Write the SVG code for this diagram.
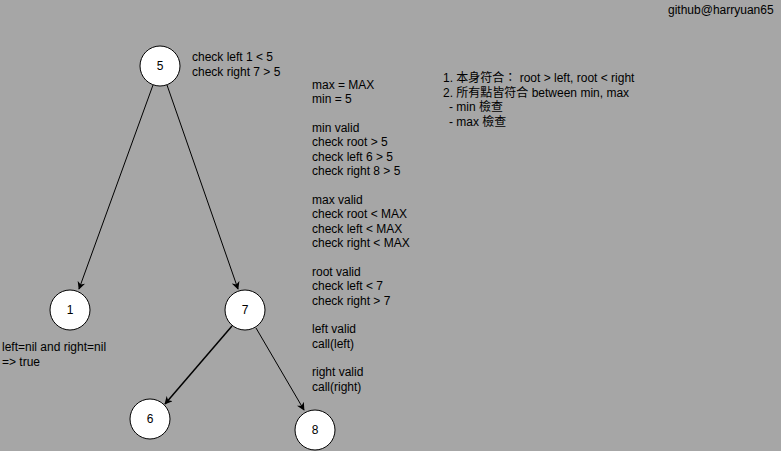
<svg xmlns="http://www.w3.org/2000/svg" width="781" height="451" viewBox="0 0 781 451">
<style>
text{font-family:"Liberation Sans","Noto Sans CJK TC",Arial,sans-serif;font-size:12px;fill:#000}
.n circle{fill:#fff;stroke:#000;stroke-width:1}
.n text{text-anchor:middle}
.e{stroke:#000;stroke-width:1;fill:none;marker-end:url(#ah)}
</style>
<defs>
<marker id="ah" viewBox="0 0 10 10" refX="9" refY="5" markerWidth="8" markerHeight="8" markerUnits="userSpaceOnUse" orient="auto">
<path d="M0,0 L10,5 L0,10 L3,5 Z" fill="#000"/>
</marker>
</defs>
<rect width="781" height="451" fill="#a6a6a6"/>
<g id="connectors">
<line class="e" x1="153" y1="85" x2="79" y2="289"/>
<line class="e" x1="167" y1="85" x2="238" y2="289"/>
<line class="e" x1="232" y1="326" x2="165" y2="404" style="stroke-width:1.5"/>
<line class="e" x1="256" y1="328" x2="304" y2="410"/>
</g>
<g id="node5" class="n"><circle cx="160" cy="66" r="20"/><text x="160" y="70">5</text></g>
<g id="node1" class="n"><circle cx="70" cy="310" r="20"/><text x="70" y="314">1</text></g>
<g id="node7" class="n"><circle cx="245" cy="310" r="20"/><text x="245" y="314">7</text></g>
<g id="node6" class="n"><circle cx="150" cy="419" r="20"/><text x="150" y="423">6</text></g>
<g id="node8" class="n"><circle cx="315" cy="430" r="20"/><text x="315" y="434">8</text></g>
<g id="labels">
<text x="192" y="61">check left 1 &lt; 5</text>
<text x="192" y="76">check right 7 &gt; 5</text>
<text x="2" y="351">left=nil and right=nil</text>
<text x="2" y="366">=&gt; true</text>
<text x="668" y="14">github@harryuan65</text>
<text x="312" y="88.5">max = MAX</text>
<text x="312" y="103">min = 5</text>
<text x="312" y="131.5">min valid</text>
<text x="312" y="146">check root &gt; 5</text>
<text x="312" y="160.5">check left 6 &gt; 5</text>
<text x="312" y="175">check right 8 &gt; 5</text>
<text x="312" y="203.5">max valid</text>
<text x="312" y="218">check root &lt; MAX</text>
<text x="312" y="232.5">check left &lt; MAX</text>
<text x="312" y="247">check right &lt; MAX</text>
<text x="312" y="275.5">root valid</text>
<text x="312" y="290">check left &lt; 7</text>
<text x="312" y="304.5">check right &gt; 7</text>
<text x="312" y="333">left valid</text>
<text x="312" y="347.5">call(left)</text>
<text x="312" y="376">right valid</text>
<text x="312" y="390.5">call(right)</text>
<text x="443" y="82">1. 本身符合：  root &gt; left, root &lt; right</text>
<text x="443" y="97">2. 所有點皆符合 between min, max</text>
<text x="449" y="111">- min 檢查</text>
<text x="449" y="125.5">- max 檢查</text>
</g>
</svg>
